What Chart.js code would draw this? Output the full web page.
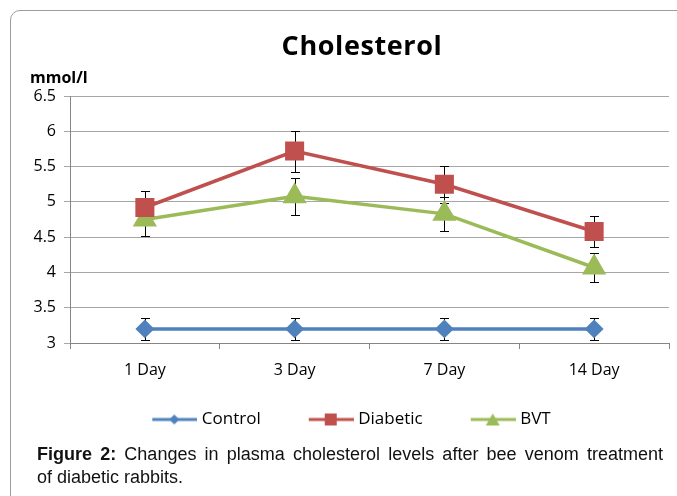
<!DOCTYPE html>
<html>
<head>
<meta charset="utf-8">
<script src="https://cdn.jsdelivr.net/npm/chart.js@4"></script>
<style>
  html, body { margin: 0; background: #fff; width: 677px; height: 496px; overflow: hidden; }
  body { position: relative; }
  #frame { position: absolute; left: 10px; top: 10px; width: 700px; height: 500px; border: 1px solid #9c9c9c; border-radius: 10px; }
  #myChart { position: absolute; left: 0; top: 0; }
  #caption { position: absolute; left: 37px; top: 443px; width: 626px; font-family: "Liberation Sans", Arial, sans-serif; font-size: 18px; line-height: 23px; color: #111; }
  #caption .first { text-align: justify; text-align-last: justify; }
</style>
</head>
<body>
<div id="frame"></div>
<canvas id="myChart" width="677" height="450"></canvas>
<div id="caption">
  <div class="first"><b>Figure 2:</b> Changes in plasma cholesterol levels after bee venom treatment</div>
  <div>of diabetic rabbits.</div>
</div>
<script>
var days = ['1 Day', '3 Day', '7 Day', '14 Day'];
var control = [3.2, 3.2, 3.2, 3.2];
var controlErr = [0.16, 0.16, 0.16, 0.16];
var diabetic = [4.92, 5.72, 5.25, 4.58];
var diabeticErr = [0.24, 0.29, 0.26, 0.22];
var bvt = [4.75, 5.08, 4.83, 4.07];
var bvtErr = [0.23, 0.26, 0.24, 0.21];
var yMin = 3, yMax = 6.5, yStep = 0.5;

var errors = [controlErr, diabeticErr, bvtErr];
var font = '"Open Sans", Lato, sans-serif';

// line+marker pictures for the legend, padded on the left to space the items
function legendIcon(color, shape) {
    var c = document.createElement('canvas');
    c.width = 83; c.height = 16;
    var g = c.getContext('2d');
    var x0 = 83 - 45, mid = x0 + 22;
    g.strokeStyle = color; g.fillStyle = color; g.lineWidth = 3;
    g.beginPath(); g.moveTo(x0, 8); g.lineTo(83, 8); g.stroke();
    g.beginPath();
    if (shape === 'diamond') {
        g.moveTo(mid, 3); g.lineTo(mid + 5, 8); g.lineTo(mid, 13); g.lineTo(mid - 5, 8);
    } else if (shape === 'square') {
        g.rect(mid - 6, 2, 12, 12);
    } else {
        g.moveTo(mid, 2); g.lineTo(mid + 7, 14); g.lineTo(mid - 7, 14);
    }
    g.closePath(); g.fill();
    return c;
}

var errorBars = {
    id: 'errorBars',
    beforeDatasetsDraw: function(chart) {
        var ctx = chart.ctx;
        var yScale = chart.scales.y;
        ctx.save();
        ctx.strokeStyle = '#000';
        ctx.lineWidth = 1;
        chart.data.datasets.forEach(function(ds, i) {
            var meta = chart.getDatasetMeta(i);
            meta.data.forEach(function(pt, j) {
                var v = ds.data[j], e = errors[i][j];
                var x = Math.round(pt.x) + 0.5;
                var top = Math.round(yScale.getPixelForValue(v + e)) + 0.5;
                var bot = Math.round(yScale.getPixelForValue(v - e)) + 0.5;
                ctx.beginPath();
                ctx.moveTo(x, top); ctx.lineTo(x, bot);
                ctx.moveTo(x - 4.5, top); ctx.lineTo(x + 4.5, top);
                ctx.moveTo(x - 4.5, bot); ctx.lineTo(x + 4.5, bot);
                ctx.stroke();
            });
        });
        ctx.restore();
    }
};

// chart heading and unit label
var headings = {
    id: 'headings',
    afterDraw: function(chart) {
        var ctx = chart.ctx;
        ctx.save();
        ctx.fillStyle = '#000';
        ctx.textBaseline = 'middle';
        ctx.textAlign = 'center';
        ctx.font = 'bold 27px ' + font;
        ctx.letterSpacing = '0.6px';
        ctx.fillText('Cholesterol', 362, 47);
        ctx.letterSpacing = '0px';
        ctx.textAlign = 'left';
        ctx.font = 'bold 16px ' + font;
        ctx.fillText('mmol/l', 30, 78);
        ctx.restore();
    }
};

var ctx = document.getElementById('myChart').getContext('2d');
var myChart = new Chart(ctx, {
    type: 'line',
    data: {
        labels: days,
        datasets: [
            {
                label: 'Control',
                data: control,
                borderColor: '#4F81BD',
                backgroundColor: '#4F81BD',
                borderWidth: 3.5,
                pointStyle: 'rectRot',
                pointRadius: 7,
                legendIcon: legendIcon('#4F81BD', 'diamond')
            },
            {
                label: 'Diabetic',
                data: diabetic,
                borderColor: '#C0504D',
                backgroundColor: '#C0504D',
                borderWidth: 3.5,
                pointStyle: 'rect',
                pointRadius: 11,
                legendIcon: legendIcon('#C0504D', 'square')
            },
            {
                label: 'BVT',
                data: bvt,
                borderColor: '#9BBB59',
                backgroundColor: '#9BBB59',
                borderWidth: 3.5,
                pointStyle: 'triangle',
                pointRadius: 10.5,
                legendIcon: legendIcon('#9BBB59', 'triangle')
            }
        ]
    },
    options: {
        responsive: false,
        animation: false,
        layout: { autoPadding: false, padding: { left: 0, right: 8, top: 96, bottom: 12 } },
        plugins: {
            tooltip: { enabled: false },
            title: { display: false },
            legend: {
                position: 'bottom',
                labels: {
                    color: '#000',
                    font: { family: font, size: 17 },
                    usePointStyle: true,
                    pointStyleWidth: 75,
                    padding: 14,
                    generateLabels: function(chart) {
                        return chart.data.datasets.map(function(ds, i) {
                            return {
                                text: ds.label,
                                pointStyle: ds.legendIcon,
                                fontColor: '#000',
                                lineWidth: 0,
                                datasetIndex: i
                            };
                        });
                    }
                }
            }
        },
        scales: {
            x: {
                offset: true,
                afterFit: function(s) {
                    s.height = 54;
                    s.paddingLeft = 0;
                    s.paddingRight = 0;
                },
                grid: { offset: true, drawOnChartArea: false, tickLength: 6, color: '#868686' },
                border: { color: '#868686' },
                ticks: { color: '#000', font: { family: font, size: 16 }, padding: 12 }
            },
            y: {
                min: yMin,
                max: yMax,
                afterFit: function(s) { s.width = 70; },
                grid: { color: '#a6a6a6', tickLength: 6 },
                border: { color: '#868686' },
                ticks: {
                    stepSize: yStep,
                    color: '#000',
                    font: { family: font, size: 16 },
                    padding: 8,
                    callback: function(value) { return String(value); }
                }
            }
        }
    },
    plugins: [errorBars, headings]
});
</script>
</body>
</html>
